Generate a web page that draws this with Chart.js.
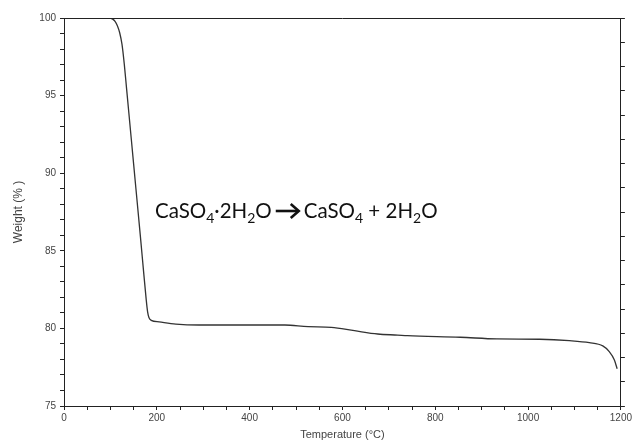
<!DOCTYPE html>
<html>
<head>
<meta charset="utf-8">
<script src="https://cdn.jsdelivr.net/npm/chart.js@4"></script>
<style>
  html, body { margin: 0; padding: 0; background: #fff; }
  #wrap { width: 634px; height: 442px; }
</style>
</head>
<body>
<div id="wrap"><canvas id="tgaChart"></canvas></div>
<script>
// TGA curve
const temperature = [38, 70, 98, 105, 110, 115, 120, 125, 130, 135, 145, 155, 165, 172, 177, 180, 183, 188, 205, 241, 291, 400, 476, 526, 576, 626, 676, 719, 740, 854, 933, 1025, 1089, 1132, 1161, 1175, 1186, 1192];
const weight = [100, 100, 100, 99.93, 99.78, 99.5, 99.05, 98.3, 97.0, 95.4, 92.2, 89.0, 85.8, 83.5, 81.9, 81.1, 80.7, 80.52, 80.42, 80.28, 80.22, 80.22, 80.22, 80.11, 80.07, 79.85, 79.64, 79.57, 79.53, 79.43, 79.32, 79.30, 79.21, 79.08, 78.87, 78.5, 77.96, 77.4];

const axisColor = '#222';
const labelColor = '#444';
const labelFont = { family: 'Liberation Sans, Arial, sans-serif', size: 10 };

// top frame line + reaction label
const extras = {
    id: 'extras',
    afterDraw(chart) {
        const { ctx, chartArea } = chart;
        ctx.save();
        ctx.strokeStyle = axisColor;
        ctx.lineWidth = 1;
        ctx.beginPath();
        ctx.moveTo(chartArea.left, chartArea.top + 0.5);
        ctx.lineTo(chartArea.right, chartArea.top + 0.5);
        ctx.stroke();

        const base = 218;
        const write = (parts, x) => {
            for (const [txt, sub] of parts) {
                ctx.font = (sub ? '14px' : '20.5px') + ' Lato, sans-serif';
                ctx.fillText(txt, x, sub ? base + 5 : base);
                x += ctx.measureText(txt).width;
            }
            return x;
        };
        ctx.fillStyle = '#111';
        ctx.textBaseline = 'alphabetic';
        let x = write([['CaSO', false], ['4', true], ['\u00B72H', false], ['2', true], ['O', false]], 155);

        // arrow
        const ax = x + 4, aw = 23, ay = base - 7;
        ctx.strokeStyle = '#111';
        ctx.lineWidth = 2.6;
        ctx.lineCap = 'butt';
        ctx.lineJoin = 'miter';
        ctx.beginPath();
        ctx.moveTo(ax, ay);
        ctx.lineTo(ax + aw - 1, ay);
        ctx.stroke();
        ctx.beginPath();
        ctx.moveTo(ax + aw - 8, ay - 7);
        ctx.lineTo(ax + aw, ay);
        ctx.lineTo(ax + aw - 8, ay + 7);
        ctx.stroke();

        write([['CaSO', false], ['4', true], [' + 2H', false], ['2', true], ['O', false]], ax + aw + 5);
        ctx.restore();
    }
};

const ctx = document.getElementById('tgaChart').getContext('2d');
const tgaChart = new Chart(ctx, {
    type: 'scatter',
    data: {
        datasets: [{
            data: temperature.map((t, i) => ({ x: t, y: weight[i] })),
            showLine: true,
            borderColor: '#333',
            borderWidth: 1.3,
            pointRadius: 0,
            cubicInterpolationMode: 'monotone'
        }]
    },
    options: {
        responsive: true,
        maintainAspectRatio: false,
        animation: false,
        layout: { padding: { top: 18, right: 0, left: 0, bottom: 0 } },
        plugins: { legend: { display: false }, tooltip: { enabled: false } },
        scales: {
            x: {
                type: 'linear',
                min: 0,
                max: 1200,
                afterFit(scale) { scale.height = 36; },
                border: { color: axisColor, width: 1 },
                grid: { drawOnChartArea: false, tickLength: 4, color: axisColor },
                ticks: {
                    stepSize: 50,
                    autoSkip: false,
                    maxRotation: 0,
                    padding: 2,
                    color: labelColor,
                    font: labelFont,
                    callback: v => (v % 200 === 0 ? v : '')
                },
                title: {
                    display: true,
                    text: 'Temperature (\u00B0C)',
                    color: labelColor,
                    font: { family: 'Liberation Sans, Arial, sans-serif', size: 11 },
                    padding: { top: 0, bottom: 0 }
                }
            },
            y: {
                min: 75,
                max: 100,
                afterFit(scale) { scale.width = 64; },
                border: { color: axisColor, width: 1 },
                grid: { drawOnChartArea: false, tickLength: 4, color: axisColor },
                ticks: {
                    stepSize: 1,
                    autoSkip: false,
                    padding: 4,
                    color: labelColor,
                    font: labelFont,
                    callback: v => (v % 5 === 0 ? v : '')
                },
                title: {
                    display: true,
                    text: 'Weight (% )',
                    color: labelColor,
                    font: { family: 'Liberation Sans, Arial, sans-serif', size: 12 },
                    padding: { top: 11, bottom: 0 }
                }
            },
            y2: {
                type: 'linear',
                position: 'right',
                min: 0,
                max: 16,
                afterFit(scale) { scale.width = 10; },
                border: { color: axisColor, width: 1 },
                grid: { drawOnChartArea: false, tickLength: 4, color: axisColor },
                ticks: { stepSize: 1, display: false }
            }
        }
    },
    plugins: [extras]
});
</script>
</body>
</html>
